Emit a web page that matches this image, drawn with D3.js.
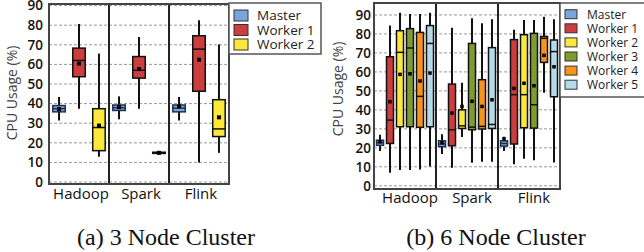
<!DOCTYPE html>
<html>
<head>
<meta charset="utf-8">
<script src="https://cdn.jsdelivr.net/npm/d3@7"></script>
<style>
  body { margin: 0; background: #fff; }
  svg { display: block; }
  text { font-family: "Open Sans", sans-serif; }
</style>
</head>
<body>
<div id="plot"></div>
<script>
// frameworks on the x axis
const categories = ["Hadoop", "Spark", "Flink"];
const yTicks = [0, 10, 20, 30, 40, 50, 60, 70, 80, 90];

const nodeNames = ["Master", "Worker 1", "Worker 2", "Worker 3", "Worker 4", "Worker 5"];
const nodeColors = ["#7aa5dc", "#cc3d3d", "#fbe83c", "#7e9c30", "#f7941d", "#b5dae8"];

// each entry: [whisker low, q1, median, q3, whisker high, mean] for Hadoop, Spark, Flink
// (a) 3 node cluster
const master3 = [[31.4, 35.8, 37.4, 39.0, 43.4, 37.2], [32.0, 36.5, 37.9, 39.3, 43.7, 38.2], [31.4, 35.8, 37.7, 39.3, 43.4, 38.6]];
const worker1_3 = [[37.4, 53.7, 62.0, 68.3, 80.6, 60.4], [37.4, 53.0, 57.0, 64.0, 74.0, 57.6], [10.0, 46.3, 67.8, 74.6, 82.5, 62.4]];
const worker2_3 = [[12.9, 16.0, 27.8, 37.4, 65.5, 28.8], [14.2, 14.6, 14.9, 15.2, 15.6, 14.9], [14.9, 23.2, 27.1, 42.0, 70.2, 33.0]];

// (b) 6 node cluster
const master6 = [[18.3, 21.3, 22.7, 24.0, 26.9, 23.2], [16.7, 20.6, 22.0, 23.7, 27.2, 22.7], [18.3, 20.9, 22.3, 23.7, 25.8, 24.8]];
const worker1_6 = [[6.9, 22.3, 34.6, 68.0, 84.4, 44.3], [9.5, 21.1, 29.5, 53.6, 83.3, 38.3], [11.4, 22.0, 48.0, 77.0, 82.2, 51.3]];
const worker2_6 = [[8.3, 31.1, 70.3, 81.7, 91.2, 58.7], [25.7, 30.2, 31.6, 40.0, 54.3, 41.8], [14.2, 30.6, 48.0, 79.6, 87.3, 54.0]];
const worker3_6 = [[8.3, 31.1, 72.6, 82.8, 90.5, 59.0], [12.1, 29.5, 30.9, 75.0, 88.2, 44.5], [13.4, 30.4, 42.7, 80.3, 87.3, 52.7]];
const worker4_6 = [[8.6, 30.8, 47.1, 80.8, 90.5, 55.2], [12.7, 29.9, 31.3, 55.9, 85.6, 41.8], [49.0, 65.0, 77.7, 78.7, 89.1, 68.7]];
const worker5_6 = [[10.2, 31.1, 75.0, 84.4, 91.2, 59.4], [12.7, 30.2, 32.3, 72.8, 87.7, 45.3], [12.3, 46.9, 70.7, 76.8, 87.7, 62.7]];

const svg = d3.select("#plot").append("svg")
  .attr("width", 644)
  .attr("height", 252);

function drawPanel(opt) {
  const g = svg.append("g");
  const x0 = d3.scaleBand().domain(categories).range([opt.left, opt.right]);
  const x1 = d3.scaleBand().domain(opt.series.map((s, i) => i))
    .range([0, x0.bandwidth()])
    .paddingInner(opt.pin).paddingOuter(opt.pout);
  const y = d3.scaleLinear().domain(opt.yDomain).range([opt.bottom, opt.top]);

  // grid
  g.selectAll(".grid").data(yTicks).join("line")
    .attr("x1", opt.left).attr("x2", opt.right)
    .attr("y1", d => y(d)).attr("y2", d => y(d))
    .attr("stroke", "#9a9a9a").attr("stroke-width", 1)
    .attr("stroke-dasharray", "3,2");

  // group separators
  g.selectAll(".sep").data(categories.slice(1)).join("line")
    .attr("x1", d => x0(d)).attr("x2", d => x0(d))
    .attr("y1", opt.top).attr("y2", opt.bottom)
    .attr("stroke", "#222").attr("stroke-width", 2);

  // boxes
  opt.series.forEach((stats, si) => {
    const w = x1.bandwidth();
    const col = nodeColors[si];
    categories.forEach((c, ci) => {
      const [lo, q1, med, q3, hi, mean] = stats[ci];
      const cx = x0(c) + x1(si) + w / 2;
      const b = g.append("g");
      b.append("line")
        .attr("x1", cx).attr("x2", cx)
        .attr("y1", y(hi)).attr("y2", y(lo))
        .attr("stroke", "#111").attr("stroke-width", 2);
      b.append("rect")
        .attr("x", cx - w / 2).attr("width", w)
        .attr("y", y(q3)).attr("height", Math.max(1, y(q1) - y(q3)))
        .attr("fill", col)
        .attr("stroke", si === 0 ? "#1f2f4f" : "#111")
        .attr("stroke-width", 1.5);
      b.append("line")
        .attr("x1", cx - w / 2).attr("x2", cx + w / 2)
        .attr("y1", y(med)).attr("y2", y(med))
        .attr("stroke", si === 0 ? "#1f2f4f" : "#111").attr("stroke-width", 1.5);
      b.append("rect")
        .attr("x", cx - opt.dot / 2).attr("y", y(mean) - opt.dot / 2)
        .attr("width", opt.dot).attr("height", opt.dot)
        .attr("fill", "#000");
    });
  });

  // frame
  g.append("rect")
    .attr("x", opt.left).attr("y", opt.top)
    .attr("width", opt.right - opt.left).attr("height", opt.bottom - opt.top)
    .attr("fill", "none").attr("stroke", "#444").attr("stroke-width", 2);

  // y axis
  const ya = g.append("g")
    .attr("transform", `translate(${opt.left - opt.tickGap},0)`)
    .call(d3.axisLeft(y).tickValues(yTicks).tickSize(0).tickPadding(0));
  ya.select(".domain").remove();
  ya.selectAll("text")
    .style("font-family", "Open Sans").style("font-size", "13.5px")
    .style("font-weight", 600).attr("fill", "#111");

  g.append("text")
    .attr("transform", `translate(${opt.yLabelX},${opt.yLabelY}) rotate(-90)`)
    .attr("text-anchor", "middle")
    .style("font-size", "14px").attr("fill", "#444")
    .text("CPU Usage (%)");

  // x axis
  const xa = g.append("g")
    .attr("transform", `translate(0,${opt.xLabelY})`)
    .call(d3.axisBottom(x0).tickSize(0).tickPadding(0));
  xa.select(".domain").remove();
  xa.selectAll("text")
    .attr("dx", opt.xLabelDx)
    .style("font-family", "Open Sans").style("font-size", "15px")
    .style("font-weight", 500).attr("fill", "#111");

  // legend
  const lg = g.append("g");
  lg.append("rect")
    .attr("x", opt.leg.x).attr("y", opt.leg.y)
    .attr("width", opt.leg.w).attr("height", opt.leg.h)
    .attr("fill", "#fff").attr("stroke", "#555").attr("stroke-width", 1.5);
  opt.series.forEach((s, i) => {
    const cy = opt.leg.y0 + i * opt.leg.step;
    lg.append("rect")
      .attr("x", opt.leg.x + opt.leg.sx).attr("y", cy - opt.leg.sh / 2)
      .attr("width", opt.leg.sw).attr("height", opt.leg.sh)
      .attr("fill", nodeColors[i]).attr("stroke", "#333").attr("stroke-width", 1);
    lg.append("text")
      .attr("x", opt.leg.x + opt.leg.tx).attr("y", cy)
      .attr("dy", "0.36em")
      .style("font-size", opt.leg.fs + "px").attr("fill", "#222")
      .text(nodeNames[i]);
  });

  // caption
  svg.append("text")
    .attr("x", opt.capX).attr("y", 245)
    .attr("text-anchor", "middle")
    .style("font-family", "Liberation Serif, Times New Roman, serif")
    .style("font-size", "24px").attr("fill", "#111")
    .text(opt.caption);
}

drawPanel({
  series: [master3, worker1_3, worker2_3],
  left: 49, right: 229, top: 4, bottom: 184,
  yDomain: [-1, 90.8],
  pin: 0.375, pout: 0.19, dot: 4,
  tickGap: 6, yLabelX: 17, yLabelY: 93, xLabelY: 188, xLabelDx: 2,
  leg: { x: 229, y: 3, w: 92, h: 51, y0: 15.5, step: 14.5, sx: 5, sw: 14, sh: 11, tx: 28, fs: 13.5 },
  capX: 166, caption: "(a) 3 Node Cluster"
});

drawPanel({
  series: [master6, worker1_6, worker2_6, worker3_6, worker4_6, worker5_6],
  left: 374, right: 560, top: 3, bottom: 189,
  yDomain: [-1.7, 96.3],
  pin: 0.3, pout: 0.25, dot: 3.5,
  tickGap: 3, yLabelX: 343, yLabelY: 89, xLabelY: 192, xLabelDx: 5,
  leg: { x: 560, y: 3, w: 90, h: 94, y0: 14.2, step: 14.1, sx: 5, sw: 12, sh: 9, tx: 27, fs: 12 },
  capX: 496, caption: "(b) 6 Node Cluster"
});
</script>
</body>
</html>
